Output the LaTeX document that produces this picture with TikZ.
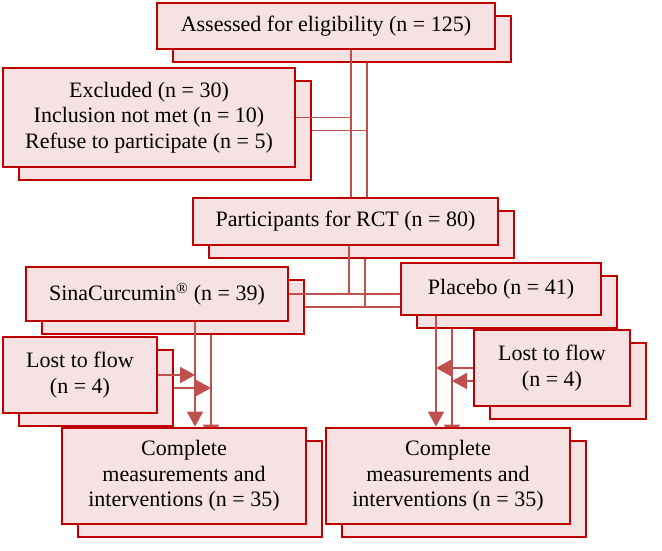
\documentclass[tikz,border=0pt]{standalone}
\usepackage{fontspec}
\setmainfont{Liberation Serif}
\usetikzlibrary{arrows.meta,calc}
\definecolor{bord}{HTML}{C00000}
\definecolor{pinkfill}{HTML}{F6E2E3}
\definecolor{lnk}{HTML}{C0504D}
\pgfdeclarelayer{l1}\pgfdeclarelayer{l2}\pgfdeclarelayer{l3}
\pgfsetlayers{l1,l2,l3,main}
\tikzset{
  boxbase/.style={draw=bord, fill=pinkfill, line width=2.8pt, inner sep=0pt,
    align=center, font=\fontsize{22}{25.5}\selectfont},
  conn/.style={draw=lnk, line width=1.8pt},
  arr/.style={conn, -{Triangle[length=15pt,width=16pt]}},
}
% #1 name, #2 x, #3 y, #4 width, #5 height, #6 text
\newcommand\twinbox[6]{%
  \node[boxbase, minimum width=#4pt, minimum height=#5pt] (#1) at (#2,#3) {#6};
  \begin{pgfonlayer}{l1}
    \node[boxbase, minimum width=#4pt, minimum height=#5pt] (#1b) at (#2+16,#3+13) {};
  \end{pgfonlayer}}
% #1 suffix ('' or b)
\newcommand\links[1]{%
  \draw[conn] (asf#1.south -| tA#1) -- (part#1.north -| tA#1);
  \draw[conn] (excl#1.east) -- (excl#1.east -| tA#1);
  \draw[conn] (part#1.south -| tP#1) -- (tP#1 |- sina#1.east);
  \draw[conn] (sina#1.east) -- (sina#1.east -| plac#1.west);
  \draw[arr] (sina#1.south -| tS#1) -- (compL#1.north -| tS#1);
  \draw[arr] (lostL#1.east) -- (lostL#1.east -| tS#1);
  \draw[arr] (plac#1.south -| tL#1) -- (compR#1.north -| tL#1);
  \draw[arr] (lostR#1.west) -- (lostR#1.west -| tL#1);}
\begin{document}
\begin{tikzpicture}[x=1pt,y=-1pt]
\useasboundingbox (0,0) rectangle (662,551);
\twinbox{asf}{326}{26}{338}{46}{Assessed for eligibility (n = 125)}
\twinbox{excl}{149}{117.5}{292}{99}{Excluded (n = 30)\\Inclusion not met (n = 10)\\Refuse to participate (n = 5)}
\twinbox{part}{345.5}{221.5}{305}{47}{Participants for RCT (n = 80)}
\twinbox{sina}{157}{294}{262}{54}{SinaCurcumin\textsuperscript{®} (n = 39)}
\twinbox{plac}{501}{289}{200}{52}{Placebo (n = 41)}
\twinbox{lostL}{80}{375}{154}{76}{Lost to flow\\(n = 4)}
\twinbox{lostR}{552}{368}{156}{76}{Lost to flow\\(n = 4)}
\twinbox{compL}{184}{476}{244}{96}{Complete\\measurements and\\interventions (n = 35)}
\twinbox{compR}{448}{476}{244}{96}{Complete\\measurements and\\interventions (n = 35)}
\coordinate (tA) at (351,0);  \coordinate (tAb) at (367,0);
\coordinate (tP) at (349,0);  \coordinate (tPb) at (365,0);
\coordinate (tS) at (195,0);  \coordinate (tSb) at (211,0);
\coordinate (tL) at (436,0);  \coordinate (tLb) at (452,0);
\begin{pgfonlayer}{l2}\links{b}\end{pgfonlayer}
\begin{pgfonlayer}{l3}\links{}\end{pgfonlayer}
\end{tikzpicture}
\end{document}
